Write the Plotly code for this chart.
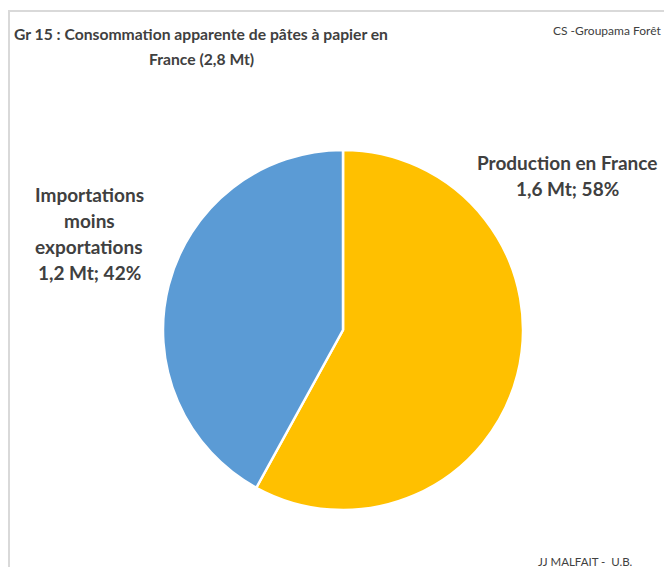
import plotly.graph_objects as go

W, H = 672, 567
OFF = 8  # page body margin offset

labels = ["Production en France", "Importations moins exportations"]
tonnage = ["1,6 Mt", "1,2 Mt"]
shares = [58, 42]
colors = ["#FFC000", "#5B9BD5"]

title_lines = ["Gr 15 : Consommation apparente de pâtes à papier en", "France (2,8 Mt)"]
source_text = "CS -Groupama Forêt"
author_text = "JJ MALFAIT -  U.B."

def px(x):
    return (x - OFF) / W

def py(y):
    return 1 - (y - OFF) / H

cx, cy, r = 343, 330, 180

fig = go.Figure(go.Pie(
    labels=labels,
    values=shares,
    marker=dict(colors=colors, line=dict(color="white", width=2.5)),
    sort=False,
    direction="clockwise",
    rotation=0,
    textinfo="none",
    hoverinfo="label+percent",
    showlegend=False,
    domain=dict(x=[px(cx - r), px(cx + r)], y=[py(cy + r), py(cy - r)]),
))

font_main = "Lato, 'Open Sans', sans-serif"
dark = "#404040"

ann = []
for i, t in enumerate(title_lines):
    ann.append(dict(x=px(201), y=py(34 + 25 * i), text="<b>" + t + "</b>", showarrow=False,
                    font=dict(size=15.7, color=dark, family=font_main), xanchor="center", yanchor="middle"))
ann.append(dict(x=px(607), y=py(30), text=source_text, showarrow=False,
                font=dict(size=12, color=dark, family=font_main),
                xanchor="center", yanchor="middle"))
ann.append(dict(x=px(585), y=py(561), text=author_text, showarrow=False,
                font=dict(size=11.5, color=dark, family=font_main),
                xanchor="center", yanchor="middle"))

# Production label
prod_lines = [labels[0], f"{tonnage[0]}; {shares[0]}%"]
for i, t in enumerate(prod_lines):
    ann.append(dict(x=px(567), y=py(162 + 27 * i), text="<b>" + t + "</b>", showarrow=False,
                    font=dict(size=19, color=dark, family=font_main), xanchor="center", yanchor="middle"))
# Imports label
imp_lines = ["Importations", "moins", "exportations", f"{tonnage[1]}; {shares[1]}%"]
for i, t in enumerate(imp_lines):
    ann.append(dict(x=px(89), y=py(194 + 26.3 * i), text="<b>" + t + "</b>", showarrow=False,
                    font=dict(size=19, color=dark, family=font_main), xanchor="center", yanchor="middle"))

fig.update_layout(
    width=W, height=H,
    margin=dict(l=0, r=0, t=0, b=0),
    paper_bgcolor="white",
    plot_bgcolor="white",
    annotations=ann,
    shapes=[dict(type="rect", xref="paper", yref="paper",
                 x0=px(9), y0=py(H + 20), x1=px(W + 20), y1=py(11),
                 line=dict(color="#D9D9D9", width=2), fillcolor="rgba(0,0,0,0)", layer="below")],
)

fig.write_html("out.html")
